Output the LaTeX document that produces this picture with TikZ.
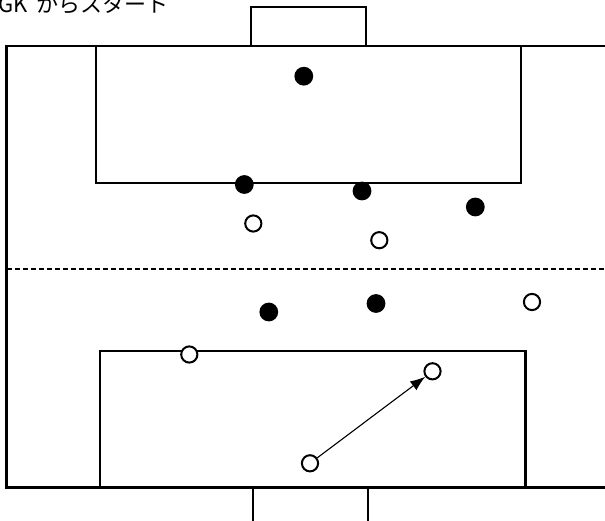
\documentclass[tikz,border=0pt]{standalone}
\usepackage{fontspec}
\newfontfamily\cjk{Noto Sans CJK JP}
\usetikzlibrary{arrows.meta}
\tikzset{
  fieldline/.style={line width=2.3pt, line join=miter},
  halfline/.style={line width=1.1pt, dash pattern=on 5pt off 3pt},
  teamA/.style={circle, fill=black, draw=none, minimum size=18.8pt, inner sep=0pt, outer sep=0pt},
  teamB/.style={circle, fill=white, draw=black, line width=2pt, minimum size=16.2pt, inner sep=0pt},
  runarrow/.style={line width=1.1pt, -{Latex[length=15pt,width=11pt]}},
}
\begin{document}
\begin{tikzpicture}[x=1pt,y=-1pt]
\useasboundingbox (0,0) rectangle (605,521);
% field
\draw[fieldline] (606,46) -- (6.5,46) -- (6.5,487.5) -- (606,487.5);
% goals
\draw[fieldline] (251,46) -- (251,7) -- (366,7) -- (366,46);
\draw[fieldline] (253,487.5) -- (253,523);
\draw[fieldline] (368,487.5) -- (368,523);
% penalty areas
\draw[fieldline] (96,46) rectangle (521,183.3);
\draw[fieldline] (100,351.3) rectangle (525.5,487.5);
% halfway line
\draw[halfline] (7,269) -- (606,269);
% title
\node[anchor=base west, inner sep=0pt, font=\cjk\fontsize{22}{26}\selectfont] (title) at (-2,13) {GK\hspace{0.4em}からスタート};
% filled players
\node[teamA] (a1) at (303.8,76.2) {};
\node[teamA] (a2) at (244.3,184.5) {};
\node[teamA] (a3) at (362,191) {};
\node[teamA] (a4) at (475.3,207) {};
\node[teamA] (a5) at (268.8,312) {};
\node[teamA] (a6) at (376,303.5) {};
% open players
\node[teamB] (b1) at (253.3,223.5) {};
\node[teamB] (b2) at (379.3,240.2) {};
\node[teamB] (b3) at (532,302) {};
\node[teamB] (b4) at (189.3,354.5) {};
\node[teamB] (b5) at (432.5,371.3) {};
\node[teamB] (b6) at (310,463.3) {};
% run
\draw[runarrow] (b6) -- (b5);
\end{tikzpicture}
\end{document}
